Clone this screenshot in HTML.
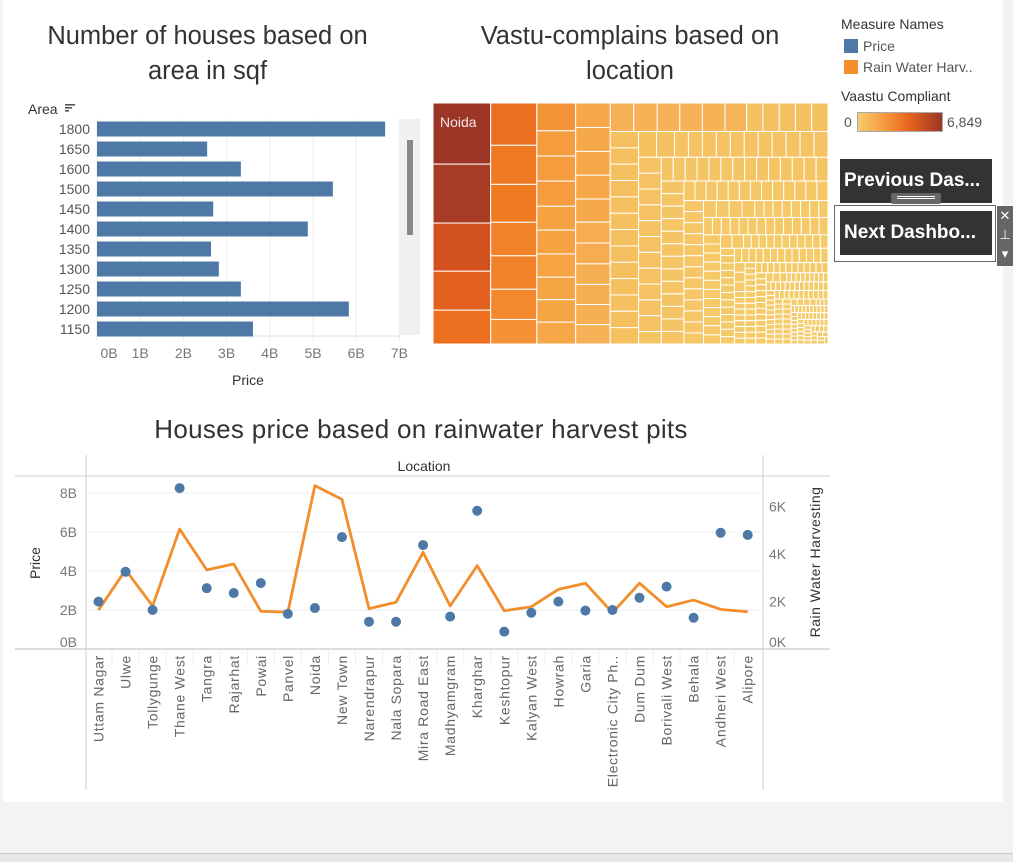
<!DOCTYPE html>
<html><head><meta charset="utf-8"><style>
body{margin:0;width:1013px;height:861px;background:#f3f3f3;font-family:"Liberation Sans",sans-serif;position:relative;overflow:hidden}
.abs{position:absolute}
.title{position:absolute;font-size:25.5px;color:#333;text-align:center;line-height:35px}
.btn{position:absolute;background:#333;color:#fff;font-weight:bold;font-size:19px;line-height:44px;padding-left:4px;box-sizing:border-box}
</style></head><body>
<div class="abs" style="left:3px;top:0;width:1000px;height:802px;background:#fff"></div>
<div class="abs" style="left:0;top:853px;width:1013px;height:8px;background:#e8e8e8;border-top:1px solid #ccc"></div>
<div class="title" style="left:10px;top:19px;width:395px">Number of houses based on<br>area in sqf</div>
<div class="title" style="left:430px;top:19px;width:400px">Vastu-complains based on<br>location</div>
<div class="title" style="left:80px;top:412px;width:682px;font-size:26px;letter-spacing:0.3px">Houses price based on rainwater harvest pits</div>

<svg class="abs" style="left:0;top:0" width="1013" height="861" id="svg"></svg>

<div class="abs" style="left:841px;top:16px;font-size:14px;color:#333">Measure Names</div>
<div class="abs" style="left:844px;top:38px;font-size:14px;color:#555"><span style="display:inline-block;width:14px;height:14px;background:#4e79a7;vertical-align:-2px;margin-right:5px"></span>Price</div>
<div class="abs" style="left:844px;top:59px;font-size:14px;color:#555;white-space:nowrap"><span style="display:inline-block;width:14px;height:14px;background:#f28e2b;vertical-align:-2px;margin-right:5px"></span>Rain Water Harv..</div>
<div class="abs" style="left:841px;top:88px;font-size:14px;color:#333">Vaastu Compliant</div>
<div class="abs" style="left:844px;top:114px;font-size:14px;color:#555">0</div>
<div class="abs" style="left:857px;top:112px;width:84px;height:18px;border:1px solid #aaa;background:linear-gradient(90deg,#f5cd6c,#f5943a 35%,#e8661f 60%,#9c3526)"></div>
<div class="abs" style="left:947px;top:114px;font-size:14px;color:#555">6,849</div>
<div class="btn" style="left:840px;top:159px;width:152px;height:44px">Previous Das...</div>
<div class="abs" style="left:891px;top:193px;width:50px;height:11px;background:#666;border-radius:2px"><div style="margin:3px 6px;border-top:1px solid #fff;border-bottom:1px solid #fff;height:1px"></div></div>
<div class="abs" style="left:834px;top:205px;width:160px;height:55px;border:1px solid #666;background:#fff"></div>
<div class="btn" style="left:840px;top:211px;width:152px;height:44px">Next Dashbo...</div>
<div class="abs" style="left:997px;top:206px;width:16px;height:60px;background:#666;color:#fff;font-size:13px;text-align:center;line-height:19px">✕<br>⊥<br>▾</div>

<script>
// ---------- bar chart data ----------
const areaCats = ["1800","1650","1600","1500","1450","1400","1350","1300","1250","1200","1150"];
const areaPrice = [6.67,2.55,3.33,5.46,2.69,4.88,2.64,2.82,3.33,5.83,3.61];
const barTicks = [0,1,2,3,4,5,6,7];
// ---------- line/dot chart data ----------
const locations = ["Uttam Nagar","Ulwe","Tollygunge","Thane West","Tangra","Rajarhat","Powai","Panvel","Noida","New Town","Narendrapur","Nala Sopara","Mira Road East","Madhyamgram","Kharghar","Keshtopur","Kalyan West","Howrah","Garia","Electronic City Ph..","Dum Dum","Borivali West","Behala","Andheri West","Alipore"];
const locPrice = [2.43,3.96,2.0,8.25,3.12,2.87,3.38,1.8,2.1,5.74,1.4,1.4,5.33,1.66,7.09,0.89,1.86,2.43,1.97,2.0,2.63,3.2,1.6,5.96,5.85];
const locRain = [1.64,3.33,1.81,5.05,3.33,3.58,1.59,1.55,6.88,6.3,1.7,1.97,4.07,1.81,3.51,1.61,1.78,2.51,2.77,1.53,2.77,1.78,2.06,1.67,1.57];
const priceTicks = [0,2,4,6,8];
const rainTicks = [0,2,4,6];
// ---------- treemap data (value, count) ----------
const vaastuTop = [6849,6600,5390,4370,3790,3790,3500,3400,3000,3000,2700,2200,2100,1900,1900,1900,1800,1800,1750,1700,1700,1650,1650,1600,1600,1600,1550,1400,1400,1380,1350,1350,1300,1300,1300,1250,1250,1250,1200];
const vaastuTailValues = [900,700,550,420,300,200,120,80,50];
const vaastuTailCounts = [20,22,28,30,36,40,50,66,58];

const svg=document.getElementById('svg');
const NS='http://www.w3.org/2000/svg';
function el(t,a,p){const e=document.createElementNS(NS,t);for(const k in a)e.setAttribute(k,a[k]);(p||svg).appendChild(e);return e;}
function txt(s,a){const e=el('text',a);e.textContent=s;return e;}

// ===== Bar chart =====
const bx=v=>97+v*43.2, rowY=i=>129+i*20;
el('rect',{x:400,y:119,width:20,height:216,fill:'#f0f0f0'});
el('rect',{x:407,y:140,width:6,height:95,fill:'#888'});
barTicks.forEach(t=>{
  const g=el('line',{x1:bx(t),x2:bx(t),y1:119,y2:341,stroke:'#eee'});
  
  const l=txt(t+'B',{x:bx(t)+(t==0?12:0),y:358,'font-size':14,fill:'#777','text-anchor':'middle'});
  
});
el('line',{x1:97,x2:400,y1:336,y2:336,stroke:'#ddd'});
areaCats.forEach((c,i)=>{
  const r=el('rect',{x:bx(0),y:rowY(i)-7.5,width:bx(areaPrice[i])-bx(0),height:15,fill:'#4e79a7'});
  
  const l=txt(c,{x:90,y:rowY(i)+5,'font-size':14,fill:'#555','text-anchor':'end'});
  
});
txt('Area',{x:28,y:114,'font-size':14,fill:'#333'});
[0,3,6].forEach((d,i)=>el('rect',{x:65,y:104+d,width:10-i*3,height:1.6,fill:'#555'}));
txt('Price',{x:248,y:385,'font-size':14,fill:'#333','text-anchor':'middle'});

// ===== Treemap =====
(function(){
  const vals=vaastuTop.slice();
  vaastuTailValues.forEach((v,i)=>{for(let k=0;k<vaastuTailCounts[i];k++)vals.push(v);});
  vals.sort((a,b)=>b-a);
  const X0=433,Y0=103,W=395,H=241;
  const total=vals.reduce((a,b)=>a+b,0), sc=W*H/total;
  const areas=vals.map(v=>v*sc);
  const stops=[[0,'#f5cd6c'],[0.13,'#f5c060'],[0.19,'#f6b055'],[0.25,'#f6a545'],[0.3,'#f5943a'],[0.5,'#f07a22'],[0.6,'#e8661f'],[0.8,'#d2501f'],[0.95,'#ab3f24'],[1,'#9c3526']];
  function hx(h){return [1,3,5].map(i=>parseInt(h.substr(i,2),16));}
  function col(v){const t=v/6849;for(let i=1;i<stops.length;i++){if(t<=stops[i][0]){const a=stops[i-1],b=stops[i],f=(t-a[0])/(b[0]-a[0]);const ca=hx(a[1]),cb=hx(b[1]);return 'rgb('+ca.map((c,j)=>Math.round(c+(cb[j]-c)*f)).join(',')+')';}}return stops[stops.length-1][1];}
  let rect={x:X0,y:Y0,w:W,h:H}, i=0;
  function worst(row,side){const s=row.reduce((a,b)=>a+b,0);const mx=Math.max(...row),mn=Math.min(...row);return Math.max(side*side*mx/(s*s),s*s/(side*side*mn));}
  while(i<areas.length){
    const side=Math.min(rect.w,rect.h);let row=[areas[i]];let j=i+1;
    while(j<areas.length){
      const wn=worst(row.concat(areas[j]),side), wo=worst(row,side);
      if(wn<=wo||wn<2.0){row.push(areas[j]);j++;}else break;
    }
    const s=row.reduce((a,b)=>a+b,0);
    if(rect.w>=rect.h){const cw=s/rect.h;let y=rect.y;row.forEach((a,k)=>{const hh=a/cw;draw(rect.x,y,cw,hh,i+k);y+=hh;});rect.x+=cw;rect.w-=cw;}
    else{const ch=s/rect.w;let x=rect.x;row.forEach((a,k)=>{const ww=a/ch;draw(x,rect.y,ww,ch,i+k);x+=ww;});rect.y+=ch;rect.h-=ch;}
    i=j;
  }
  function draw(x,y,w,h,k){const r=el('rect',{x:x,y:y,width:Math.max(w,0),height:Math.max(h,0),fill:col(vals[k]),stroke:'#fff','stroke-width':1});
    }
  txt('Noida',{x:440,y:127,'font-size':14,fill:'#f5e6e6'});
})();

// ===== Dual axis chart =====
const lx=i=>98.5+i*27.05, py=v=>649-v*19.5, ry=v=>649-v*23.75;
el('line',{x1:15,x2:830,y1:476,y2:476,stroke:'#ccc'});
el('line',{x1:15,x2:830,y1:649,y2:649,stroke:'#bbb'});
el('line',{x1:86,x2:86,y1:455,y2:790,stroke:'#ccc'});
el('line',{x1:763,x2:763,y1:455,y2:790,stroke:'#ccc'});
txt('Location',{x:424,y:471,'font-size':14,fill:'#333','text-anchor':'middle'});
priceTicks.forEach(t=>{
  if(t>0){const g=el('line',{x1:86,x2:763,y1:py(t),y2:py(t),stroke:'#eee'});}
  const l=txt(t+'B',{x:77,y:(t==0?py(t)-7:py(t))+5,'font-size':14,fill:'#777','text-anchor':'end'});
  
});
rainTicks.forEach(t=>{
  const l=txt(t+'K',{x:769,y:(t==0?ry(t)-7:ry(t))+5,'font-size':14,fill:'#777'});
  
});
txt('Price',{x:40,y:563,'font-size':14,fill:'#333','text-anchor':'middle',transform:'rotate(-90 40 563)'});
txt('Rain Water Harvesting',{x:820,y:562,'font-size':14,fill:'#333','text-anchor':'middle','letter-spacing':0.5,transform:'rotate(-90 820 562)'});
locations.forEach((c,i)=>{
  if(i>0){el('line',{x1:lx(i)-13.5,x2:lx(i)-13.5,y1:650,y2:665,stroke:'#eee'});}
  const l=txt(c,{x:lx(i)+5,y:655,'font-size':14,fill:'#666','text-anchor':'end','letter-spacing':0.7,transform:'rotate(-90 '+(lx(i)+5)+' 655)'});
  
});
const pts=locRain.map((v,i)=>lx(i)+','+ry(v)).join(' ');
const pl=el('polyline',{points:pts,fill:'none',stroke:'#f28e2b','stroke-width':2.8,'stroke-linejoin':'round'});

locPrice.forEach((v,i)=>{
  const c=el('circle',{cx:lx(i),cy:py(v),r:5,fill:'#4e79a7'});
  
});
</script>
</body></html>
